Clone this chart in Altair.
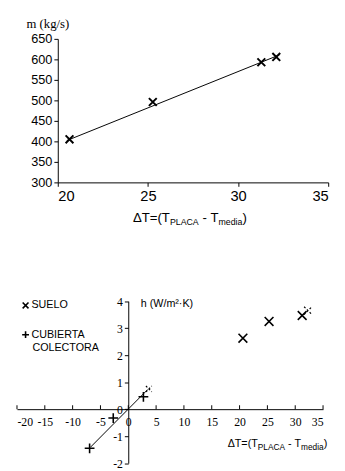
import altair as alt
import pandas as pd

# ---------------- data ----------------
# top panel: mass flow vs temperature difference
top_dT = [20.65, 25.27, 31.29, 32.12]
top_m = [405, 496, 593, 606]
top_fit_dT = [20.5, 32.3]
top_fit_m = [402, 611]
top_xticks = [20, 25, 30, 35]
top_yticks = [300, 350, 400, 450, 500, 550, 600, 650]

# bottom panel: heat transfer coefficient vs temperature difference
suelo_dT = [20.6, 25.3, 31.25]
suelo_h = [2.63, 3.25, 3.47]
suelo_ghost_dT = [32.3]
suelo_ghost_h = [3.65]
cub_dT = [-6.95, -2.7, 2.72]
cub_h = [-1.45, -0.33, 0.46]
cub_ghost_dT = [3.7]
cub_ghost_h = [0.75]
cub_fit_dT = [-6.8, 3.5]
cub_fit_h = [-1.41, 0.73]
bot_xticks = [-20, -15, -10, -5, 0, 5, 10, 15, 20, 25, 30, 35]
bot_yticks = [-2, -1, 0, 1, 2, 3, 4]

legend_labels = ["SUELO", "CUBIERTA", "COLECTORA"]

# ---------------- layout ----------------
W, H = 337, 463
SANS = "Liberation Sans"
SERIF = "Liberation Serif"
X_PATH = "M-1,-1L1,1M-1,1L1,-1"
PLUS_PATH = "M-1,0L1,0M0,-1L0,1"


def pv(p):
    return p - 8


# top panel pixel frame
T_X0, T_X1 = pv(59), pv(336)
T_Y0, T_Y1 = pv(181), pv(34)
# bottom panel pixel frame
B_X0, B_X1 = pv(17.2), pv(330.7)
B_Y0, B_Y1 = pv(468.6), pv(302.7)
B_ZERO_Y = B_Y0 + (B_Y1 - B_Y0) * (2 / 6)
B_ZERO_X = B_X0 + (B_X1 - B_X0) * (20 / 55)

axis_common = dict(grid=False, domainColor="black", tickColor="black", labelColor="black",
                   domainWidth=1, tickWidth=1, title=None)

tx = alt.X("x:Q", scale=alt.Scale(domain=[20, 35], range=[T_X0, T_X1], nice=False, zero=False),
           axis=alt.Axis(orient="bottom", offset=T_Y0 - H, values=top_xticks, labelFont=SANS,
                         labelFontSize=15, tickSize=4, labelPadding=3, **axis_common))
ty = alt.Y("y:Q", scale=alt.Scale(domain=[300, 650], range=[T_Y0, T_Y1], nice=False, zero=False),
           axis=alt.Axis(orient="left", offset=-T_X0, values=top_yticks, labelFont=SANS,
                         labelFontSize=13, tickSize=4, labelPadding=2, **axis_common))

bx = alt.X("x:Q", scale=alt.Scale(domain=[-20, 35], range=[B_X0, B_X1], nice=False, zero=False),
           axis=alt.Axis(orient="bottom", offset=B_ZERO_Y - H, values=bot_xticks, labelFont=SERIF,
                         labelFontSize=12, ticks=False, labelPadding=8,
                         labelExpr="'' + datum.value", **axis_common))
by = alt.Y("y:Q", scale=alt.Scale(domain=[-2, 4], range=[B_Y0, B_Y1], nice=False, zero=False),
           axis=alt.Axis(orient="left", offset=-B_ZERO_X, values=bot_yticks, labelFont=SERIF,
                         labelFontSize=12, tickSize=4, labelPadding=2,
                         labelExpr="'' + datum.value", **axis_common))

df_top = pd.DataFrame({"x": top_dT, "y": top_m})
df_top_fit = pd.DataFrame({"x": top_fit_dT, "y": top_fit_m})

top = alt.layer(
    alt.Chart(df_top_fit).mark_line(color="black", strokeWidth=1).encode(x=tx, y=ty),
    alt.Chart(df_top).mark_point(shape=X_PATH, filled=False, size=64, strokeWidth=2,
                                 color="black", opacity=1).encode(x=tx, y=ty),
)

df_suelo = pd.DataFrame({"x": suelo_dT, "y": suelo_h})
df_suelo_g = pd.DataFrame({"x": suelo_ghost_dT, "y": suelo_ghost_h})
df_cub = pd.DataFrame({"x": cub_dT, "y": cub_h})
df_cub_g = pd.DataFrame({"x": cub_ghost_dT, "y": cub_ghost_h})
df_cub_fit = pd.DataFrame({"x": cub_fit_dT, "y": cub_fit_h})
df_bticks = pd.DataFrame({"x": bot_xticks, "y": [0] * len(bot_xticks)})

bottom = alt.layer(
    alt.Chart(df_bticks).mark_tick(orient="vertical", size=4, thickness=1, color="black",
                                   opacity=1, yOffset=-2).encode(x=bx, y=by),
    alt.Chart(df_cub_fit).mark_line(color="black", strokeWidth=1).encode(x=bx, y=by),
    alt.Chart(df_suelo).mark_point(shape=X_PATH, filled=False, size=81, strokeWidth=1.6,
                                   color="black", opacity=1).encode(x=bx, y=by),
    alt.Chart(df_suelo_g).mark_point(shape=X_PATH, filled=False, size=64, strokeWidth=1.2,
                                     strokeDash=[2, 2], color="black", opacity=1).encode(x=bx, y=by),
    alt.Chart(df_cub).mark_point(shape=PLUS_PATH, filled=False, size=100, strokeWidth=1.6,
                                 color="black", opacity=1).encode(x=bx, y=by),
    alt.Chart(df_cub_g).mark_point(shape=X_PATH, filled=False, size=36, strokeWidth=1.2,
                                   strokeDash=[2, 2], color="black", opacity=1).encode(x=bx, y=by),
)

dummy = pd.DataFrame({"a": [0]})


def txt(s, x, y, size, font=SANS, align="left", baseline="alphabetic"):
    return alt.Chart(dummy).mark_text(text=s, font=font, fontSize=size, align=align,
                                      baseline=baseline, color="black").encode(
        x=alt.value(x), y=alt.value(y))


ARIAL = {"Δ": 668, "T": 611, "=": 584, "(": 333, ")": 333, " ": 278, "-": 333, "P": 667,
         "L": 556, "A": 667, "C": 722, "m": 833, "e": 556, "d": 556, "i": 222, "a": 556}


def width(s, size):
    return sum(ARIAL.get(c, 556) for c in s) / 1000 * size


def dt_title(x0, base, main, sub):
    parts = [("ΔT=(T", main, 0), ("PLACA", sub, 0), ("-", main, 0.278 * main),
             ("T", main, 0.278 * main), ("media", sub, 0), (")", main, 0)]
    out = []
    x = x0
    for s, size, gap in parts:
        x += gap
        y = base + (3 if size == sub else 0)
        out.append(txt(s, x, y, size))
        x += width(s, size)
    return out


texts = []
texts.append(txt("m (kg/s)", pv(27), pv(23), 13, font=SERIF))
texts += dt_title(pv(136), pv(222), 13.5, 9)
texts.append(txt("h (W/m²·K)", pv(144), pv(309), 11))
texts += dt_title(pv(233), pv(452), 11, 8.5)

# legend
texts.append(alt.Chart(dummy).mark_point(shape=X_PATH, filled=False, size=36, strokeWidth=1.6,
                                         color="black", opacity=1).encode(
    x=alt.value(pv(26)), y=alt.value(pv(307))))
texts.append(alt.Chart(dummy).mark_point(shape=PLUS_PATH, filled=False, size=49, strokeWidth=1.6,
                                         color="black", opacity=1).encode(
    x=alt.value(pv(26)), y=alt.value(pv(337))))
texts.append(txt(legend_labels[0], pv(32), pv(307), 11, baseline="middle"))
texts.append(txt(legend_labels[1], pv(32), pv(337), 11, baseline="middle"))
texts.append(txt(legend_labels[2], pv(33), pv(351), 11, baseline="middle"))

chart = alt.layer(top, bottom, *texts).resolve_scale(
    x="independent", y="independent"
).properties(
    width=W, height=H, padding=0, autosize=alt.AutoSizeParams(type="none")
).configure_view(stroke=None)

chart.save("out.html", embed_options={"renderer": "svg", "actions": False})
